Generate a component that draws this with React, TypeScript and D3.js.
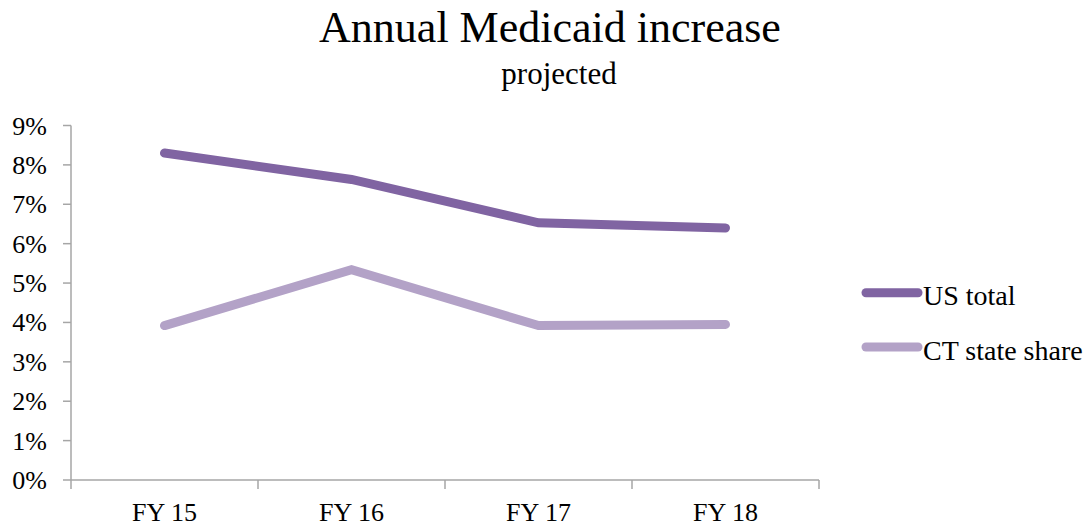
import React from "react";
import * as d3 from "d3";

const categories = ["FY 15", "FY 16", "FY 17", "FY 18"];
const usTotal = [0.083, 0.0763, 0.0653, 0.064];
const ctShare = [0.0392, 0.0534, 0.0392, 0.0395];
const yTicks = [0, 0.01, 0.02, 0.03, 0.04, 0.05, 0.06, 0.07, 0.08, 0.09];
const seriesNames = ["US total", "CT state share"];
const seriesColors = ["#8064A2", "#B3A2C7"];
const titleText = "Annual Medicaid increase";
const subtitleText = "projected";

const W = 1087;
const H = 529;
const FONT = "'Liberation Serif', 'Times New Roman', serif";

export default function App() {
  const x = d3.scaleBand<string>().domain(categories).range([71, 819]).padding(0);
  const y = d3.scaleLinear().domain([0, 0.09]).range([480, 125.5]);
  const line = d3
    .line<number>()
    .x((_, i) => (x(categories[i]) as number) + x.bandwidth() / 2)
    .y((d) => y(d));
  const series = [usTotal, ctShare];
  const boundaries = [...categories.map((c) => x(c) as number), x.range()[1]];
  const axisColor = "#A6A6A6";

  return (
    <svg
      width={W}
      height={H}
      style={{ position: "absolute", left: 0, top: 0, background: "#fff" }}
      fontFamily={FONT}
    >
      <text x={550} y={42} textAnchor="middle" fontSize={44} fill="#000">
        {titleText}
      </text>
      <text x={559} y={84} textAnchor="middle" fontSize={31} fill="#000">
        {subtitleText}
      </text>

      {/* y axis */}
      <line x1={71} x2={71} y1={y(0.09)} y2={y(0)} stroke={axisColor} strokeWidth={1.5} />
      {yTicks.map((t) => (
        <g key={t}>
          <line x1={63} x2={71} y1={y(t)} y2={y(t)} stroke={axisColor} strokeWidth={1.5} />
          <text x={47} y={y(t) + 9} textAnchor="end" fontSize={26} fill="#000">
            {`${Math.round(t * 100)}%`}
          </text>
        </g>
      ))}

      {/* x axis */}
      <line x1={x.range()[0]} x2={x.range()[1]} y1={y(0)} y2={y(0)} stroke={axisColor} strokeWidth={1.5} />
      {boundaries.map((b, i) => (
        <line key={i} x1={b} x2={b} y1={y(0)} y2={y(0) + 9} stroke={axisColor} strokeWidth={1.5} />
      ))}
      {categories.map((c) => (
        <text
          key={c}
          x={(x(c) as number) + x.bandwidth() / 2}
          y={521}
          textAnchor="middle"
          fontSize={26}
          fill="#000"
        >
          {c}
        </text>
      ))}

      {/* series */}
      {series.map((s, i) => (
        <path
          key={i}
          d={line(s) || ""}
          fill="none"
          stroke={seriesColors[i]}
          strokeWidth={9}
          strokeLinecap="round"
          strokeLinejoin="miter"
        />
      ))}

      {/* legend */}
      {seriesNames.map((n, i) => {
        const ly = 292.7 + i * 54.3;
        return (
          <g key={n}>
            <line x1={866} x2={918} y1={ly} y2={ly} stroke={seriesColors[i]} strokeWidth={9} strokeLinecap="round" />
            <text x={923} y={ly + 12.5} fontSize={28} fill="#000">
              {n}
            </text>
          </g>
        );
      })}
    </svg>
  );
}
